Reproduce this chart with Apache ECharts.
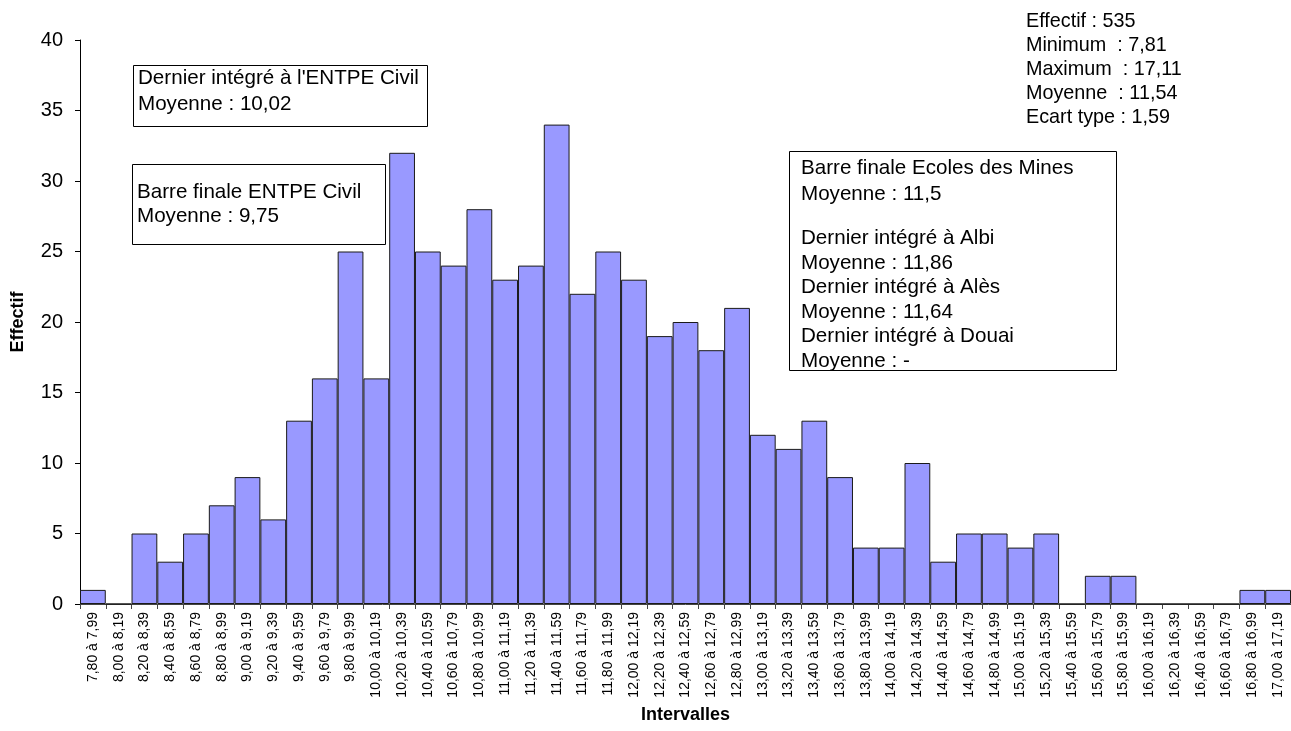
<!DOCTYPE html>
<html><head><meta charset="utf-8">
<script src="https://cdn.jsdelivr.net/npm/echarts@6/dist/echarts.min.js"></script>
<style>html,body{margin:0;padding:0;background:#fff}#c{width:1291px;height:731px}</style>
</head><body><div id="c"></div>
<script>
const categories = ["7,80 à 7,99","8,00 à 8,19","8,20 à 8,39","8,40 à 8,59","8,60 à 8,79","8,80 à 8,99","9,00 à 9,19","9,20 à 9,39","9,40 à 9,59","9,60 à 9,79","9,80 à 9,99","10,00 à 10,19","10,20 à 10,39","10,40 à 10,59","10,60 à 10,79","10,80 à 10,99","11,00 à 11,19","11,20 à 11,39","11,40 à 11,59","11,60 à 11,79","11,80 à 11,99","12,00 à 12,19","12,20 à 12,39","12,40 à 12,59","12,60 à 12,79","12,80 à 12,99","13,00 à 13,19","13,20 à 13,39","13,40 à 13,59","13,60 à 13,79","13,80 à 13,99","14,00 à 14,19","14,20 à 14,39","14,40 à 14,59","14,60 à 14,79","14,80 à 14,99","15,00 à 15,19","15,20 à 15,39","15,40 à 15,59","15,60 à 15,79","15,80 à 15,99","16,00 à 16,19","16,20 à 16,39","16,40 à 16,59","16,60 à 16,79","16,80 à 16,99","17,00 à 17,19"];
const effectif = [1,0,5,3,5,7,9,6,13,16,25,16,32,25,24,28,23,24,34,22,25,23,19,20,18,21,12,11,13,9,4,4,10,3,5,5,4,5,0,2,2,0,0,0,0,1,1];
const statsLines = ["Effectif : 535","Minimum  : 7,81","Maximum  : 17,11","Moyenne  : 11,54","Ecart type : 1,59"];
const box1Lines = ["Dernier intégré à l'ENTPE Civil","Moyenne : 10,02"];
const box2Lines = ["Barre finale ENTPE Civil","Moyenne : 9,75"];
const box3TopLines = ["Barre finale Ecoles des Mines","Moyenne : 11,5"];
const box3Lines = ["Dernier intégré à Albi","Moyenne : 11,86","Dernier intégré à Alès","Moyenne : 11,64","Dernier intégré à Douai","Moyenne : -"];

const FONT = "'Liberation Sans', Arial, sans-serif";
const TF = '20.6px ' + FONT;
const chart = echarts.init(document.getElementById('c'));

function rect(x, y, w, h) {
  return {type:'rect', shape:{x:x+0.5,y:y+0.5,width:w,height:h}, style:{fill:'#fff',stroke:'#000',lineWidth:1}, z:10};
}
function txt(lines, x, y, lh, font) {
  return {type:'text', x:x, y:y, style:{text:lines.join('\n'), font:font || TF, fill:'#000', lineHeight:lh, verticalAlign:'top'}, z:11};
}

chart.setOption({
  animation:false,
  backgroundColor:'#fff',
  grid:{left:80, right:0, top:40, bottom:127, outerBoundsMode:'none', containLabel:false},
  xAxis:{
    type:'category', data:categories,
    name:'Intervalles', nameLocation:'middle', nameGap:87,
    nameTextStyle:{fontFamily:FONT, fontWeight:'bold', fontSize:18, color:'#000'},
    axisLine:{lineStyle:{color:'#444', width:1}},
    axisTick:{show:true, length:5, alignWithLabel:false, lineStyle:{color:'#444'}},
    axisLabel:{rotate:90, interval:0, fontFamily:FONT, fontSize:14, color:'#000', margin:8}
  },
  yAxis:{
    type:'value', min:0, max:40, interval:5,
    name:'Effectif', nameLocation:'middle', nameGap:53, nameRotate:90,
    nameTextStyle:{fontFamily:FONT, fontWeight:'bold', fontSize:18, color:'#000'},
    axisLine:{show:true, lineStyle:{color:'#000', width:1}},
    axisTick:{show:true, length:5, lineStyle:{color:'#000'}},
    axisLabel:{fontFamily:FONT, fontSize:20, color:'#000', margin:17},
    splitLine:{show:false}
  },
  series:[{
    type:'bar', data:effectif, barCategoryGap:'0%',
    itemStyle:{color:'#9999FF', borderColor:'#1a1a1a', borderWidth:1}
  }],
  graphic:[
    txt(statsLines, 1026, 10, 24, '19.8px ' + FONT),
    rect(133, 65, 294, 61), txt(box1Lines, 138, 66, 25.5),
    rect(132, 164, 253, 80), txt(box2Lines, 137, 180, 24),
    rect(789, 151, 327, 219), txt(box3TopLines, 801, 155, 26), txt(box3Lines, 801, 226, 24.6)
  ]
});
</script></body></html>
